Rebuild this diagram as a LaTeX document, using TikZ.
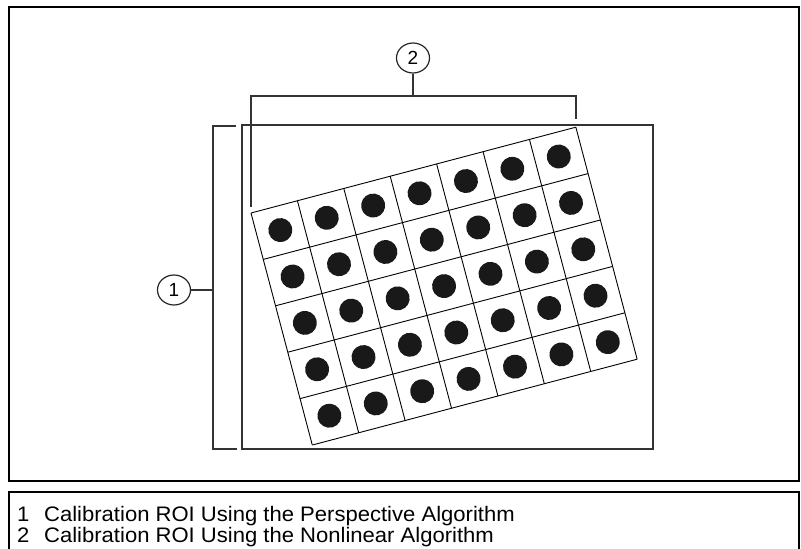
\documentclass[tikz,border=0pt]{standalone}
\usepackage{fontspec}
\usepackage{graphicx}
\usetikzlibrary{shapes.geometric}
\setmainfont{Liberation Sans}
\begin{document}
\begin{tikzpicture}[x=1pt,y=-1pt,
  frame/.style={line width=2pt,black},
  bracketline/.style={line width=1.3pt,black!80},
  gridline/.style={line width=0.9pt,black},
  callout/.style={ellipse,draw=black!85,line width=1.2pt,minimum width=33pt,minimum height=30pt,inner sep=0pt,font=\fontsize{19}{19}\selectfont},
  legendtext/.style={anchor=north west,inner sep=0pt,font=\fontsize{21}{18}\selectfont}]
\useasboundingbox (0,0) rectangle (801,549);
% outer frame
\draw[frame] (9,7) rectangle (799,481);
% legend box (open at bottom)
\draw[frame] (9,549) -- (9,492) -- (799,492) -- (799,549);
% perspective ROI rectangle
\draw[bracketline] (242,125) rectangle (653,449);
% callout 1
\node[callout] (c1) at (174,290) {1};
\coordinate (b1t) at (236,126);
\coordinate (b1b) at (237,449);
\coordinate (b1m) at (213,290);
\draw[bracketline] (b1t) -- (213,126) -- (213,449) -- (b1b);
\draw[bracketline] (c1.east) -- (b1m);
% callout 2
\node[callout] (c2) at (413,58) {2};
\coordinate (b2m) at (413,96);
\coordinate (b2l) at (251,207);
\coordinate (b2r) at (576,119);
\draw[bracketline] (b2l) -- (251,96) -- (576,96) -- (b2r);
\draw[bracketline] (c2.south) -- (b2m);
% rotated calibration grid
\begin{scope}[shift={(251pt,-213pt)},rotate=14.8,x=48pt,y=-48pt]
  \foreach \i in {0,...,7}{\draw[gridline] (\i,0) -- (\i,5);}
  \foreach \j in {0,...,5}{\draw[gridline] (0,\j) -- (7,\j);}
  \foreach \i in {0,...,6}{
    \foreach \j in {0,...,4}{
      \fill[black!90] (\i+0.5,\j+0.5) circle[radius=12pt];
    }
  }
\end{scope}
% legend text
\node[legendtext] (legend) at (17,506) {\scalebox{1.05}[1]{\begin{tabular}{@{}l@{\hspace{14pt}}l@{}}
1 & Calibration ROI Using the Perspective Algorithm\\
2 & Calibration ROI Using the Nonlinear Algorithm
\end{tabular}}};
\end{tikzpicture}
\end{document}
